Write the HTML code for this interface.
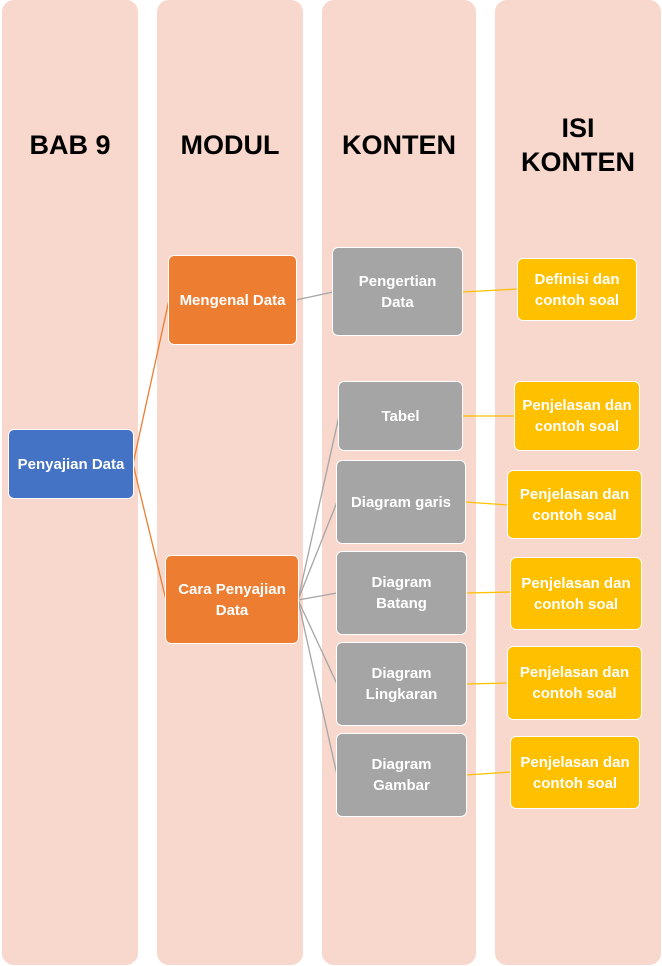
<!DOCTYPE html>
<html><head><meta charset="utf-8"><style>
body{margin:0;width:662px;height:966px;background:#fff;position:relative;overflow:hidden;font-family:"Liberation Sans",sans-serif}
.col{position:absolute;top:0;height:965px;background:#F8D7CC;border-radius:12px}
.h{position:absolute;font-weight:bold;font-size:27px;color:#000;text-align:center;line-height:34px}
.n{position:absolute;display:flex;align-items:center;justify-content:center;text-align:center;color:#fff;font-weight:bold;font-size:15px;line-height:21px;border-radius:6px;box-sizing:border-box;border:1px solid #fff}
.b{background:#4472C4}.o{background:#ED7D31}.g{background:#A5A5A5}.y{background:#FFC000}
svg{position:absolute;left:0;top:0}
</style></head><body>
<div class="col" style="left:2px;width:136px"></div>
<div class="col" style="left:157px;width:146px"></div>
<div class="col" style="left:322px;width:154px"></div>
<div class="col" style="left:495px;width:166px"></div>
<div class="h" style="left:2px;width:136px;top:128px">BAB 9</div>
<div class="h" style="left:157px;width:146px;top:128px">MODUL</div>
<div class="h" style="left:322px;width:154px;top:128px">KONTEN</div>
<div class="h" style="left:495px;width:166px;top:111px">ISI<br>KONTEN</div>
<svg width="662" height="966">
<g stroke="#ED7D31" stroke-width="1.3"><line x1="133" y1="464" x2="169" y2="300"/><line x1="133" y1="464" x2="166" y2="600"/></g>
<g stroke="#A5A5A5" stroke-width="1.3"><line x1="296" y1="300" x2="333" y2="292"/>
<line x1="298" y1="600" x2="339" y2="416"/><line x1="298" y1="600" x2="337" y2="502"/><line x1="298" y1="600" x2="337" y2="593"/><line x1="298" y1="600" x2="337" y2="684"/><line x1="298" y1="600" x2="337" y2="775"/></g>
<g stroke="#FFC000" stroke-width="1.3"><line x1="462" y1="292" x2="518" y2="289"/><line x1="462" y1="416" x2="515" y2="416"/><line x1="465" y1="502" x2="508" y2="505"/><line x1="466" y1="593" x2="511" y2="592"/><line x1="466" y1="684" x2="508" y2="683"/><line x1="466" y1="775" x2="511" y2="772"/></g>
</svg>
<div class="n b" style="left:8px;top:429px;width:126px;height:70px">Penyajian Data</div>
<div class="n o" style="left:168px;top:255px;width:129px;height:90px">Mengenal Data</div>
<div class="n o" style="left:165px;top:555px;width:134px;height:89px">Cara Penyajian<br>Data</div>
<div class="n g" style="left:332px;top:247px;width:131px;height:89px">Pengertian<br>Data</div>
<div class="n g" style="left:338px;top:381px;width:125px;height:70px">Tabel</div>
<div class="n g" style="left:336px;top:460px;width:130px;height:84px">Diagram garis</div>
<div class="n g" style="left:336px;top:551px;width:131px;height:84px">Diagram<br>Batang</div>
<div class="n g" style="left:336px;top:642px;width:131px;height:84px">Diagram<br>Lingkaran</div>
<div class="n g" style="left:336px;top:733px;width:131px;height:84px">Diagram<br>Gambar</div>
<div class="n y" style="left:517px;top:258px;width:120px;height:63px">Definisi dan<br>contoh soal</div>
<div class="n y" style="left:514px;top:381px;width:126px;height:70px">Penjelasan dan<br>contoh soal</div>
<div class="n y" style="left:507px;top:470px;width:135px;height:69px">Penjelasan dan<br>contoh soal</div>
<div class="n y" style="left:510px;top:557px;width:132px;height:73px">Penjelasan dan<br>contoh soal</div>
<div class="n y" style="left:507px;top:646px;width:135px;height:74px">Penjelasan dan<br>contoh soal</div>
<div class="n y" style="left:510px;top:736px;width:130px;height:73px">Penjelasan dan<br>contoh soal</div>
</body></html>
